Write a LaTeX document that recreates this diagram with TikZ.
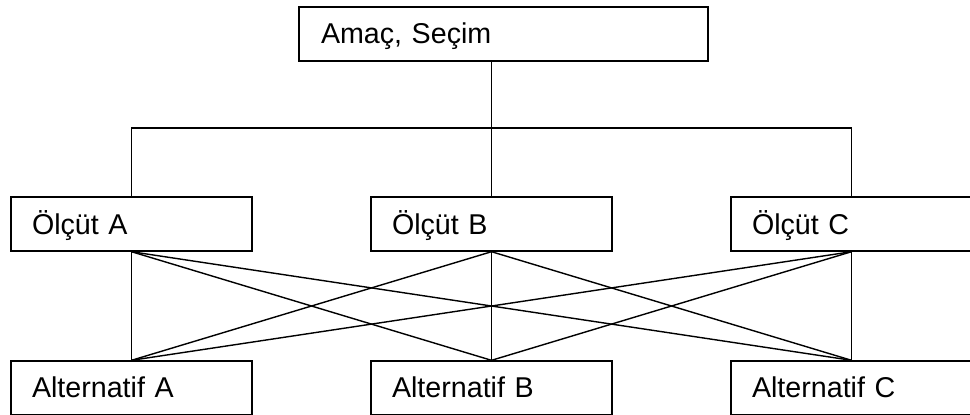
\documentclass[tikz,border=0pt]{standalone}
\usepackage{fontspec}
\setmainfont{Liberation Sans}
\usepackage{tikz}
\usetikzlibrary{positioning}

\begin{document}
\begin{tikzpicture}[x=0.02cm, y=-0.02cm, line width=0.8pt,
        box/.style={draw, rectangle, inner xsep=0.42cm, inner ysep=0pt, text width=3.98cm, minimum height=1.08cm, align=left, text depth=0.05cm, font=\fontsize{16.3}{19}\selectfont},
        goalbox/.style={box, text width=7.3cm, inner xsep=0.44cm}]
        \useasboundingbox (0,0) rectangle (970,414);
        % goal
        \node[goalbox] (goal) at (503.5,34) {Amaç, Seçim};
        % criteria
        \node[box] (critA) at (131.5,224) {Ölçüt A};
        \node[box] (critB) at (491.5,224) {Ölçüt B};
        \node[box] (critC) at (851.5,224) {Ölçüt C};
        % alternatives
        \node[box] (altA) at (131.5,388) {Alternatif A};
        \node[box] (altB) at (491.5,388) {Alternatif B};
        \node[box] (altC) at (851.5,388) {Alternatif C};
        \coordinate (bus) at (491.5,128);
        \draw (goal.south -| critB.north) -- (critB.north);
        \draw (critA.north) |- (bus) -| (critC.north);
        \foreach \c in {A,B,C}
            \foreach \a in {A,B,C}
                \draw (crit\c.south) -- (alt\a.north);
    \end{tikzpicture}
\end{document}
